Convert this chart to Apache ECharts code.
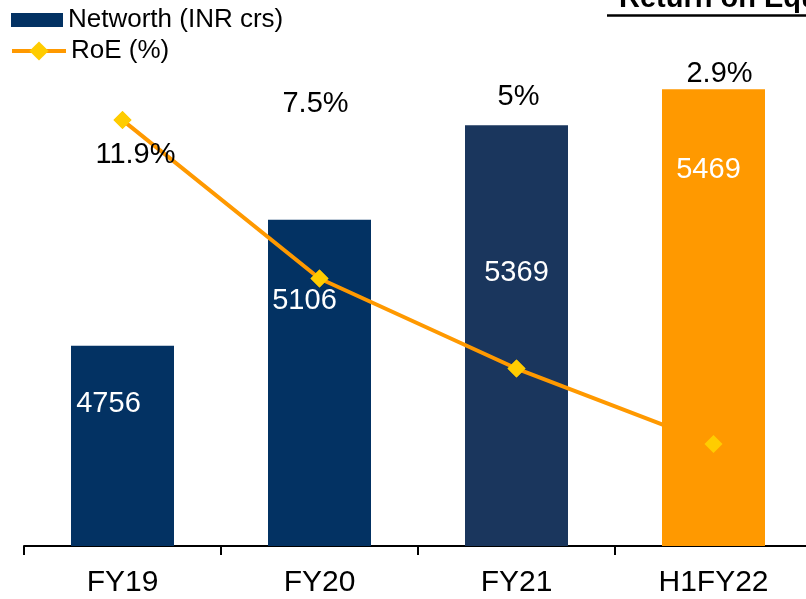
<!DOCTYPE html>
<html>
<head>
<meta charset="utf-8">
<title>Networth and RoE</title>
<script src="https://cdn.jsdelivr.net/npm/echarts@6/dist/echarts.min.js"></script>
<style>
  html, body { margin: 0; padding: 0; background: #fff; }
  #chart { width: 806px; height: 599px; }
</style>
</head>
<body>
<div id="chart"></div>
<script>
// data
const categories = ['FY19', 'FY20', 'FY21', 'H1FY22']
const networth = [4756, 5106, 5369, 5469]
const roe = [11.9, 7.5, 5, 2.9]
const roeLabels = ['11.9%', '7.5%', '5%', '2.9%']

// styling only
const barColors = ['#033263', '#033263', '#1a365d', '#ff9900']
const barLabelOffsets = [[-14, 39], [-15, 62], [0, 128], [-5, 61]]
const roeLabelOffsets = [[13, 35], [-4, -175], [2, -272], [6, -370]]

const FONT = '"Liberation Sans", Arial, sans-serif'
const highlightIndex = 3

const chart = echarts.init(document.getElementById('chart'))

const navyData = networth.map((v, i) => i === highlightIndex ? '-' : {
  value: v,
  itemStyle: {color: barColors[i]},
  label: {offset: barLabelOffsets[i]}
})
const orangeData = networth.map((v, i) => i !== highlightIndex ? '-' : {
  value: v,
  itemStyle: {color: barColors[i]},
  label: {offset: barLabelOffsets[i]}
})
const markerData = roe.map((v, i) => ({
  value: v,
  label: {formatter: roeLabels[i], offset: roeLabelOffsets[i]}
}))

const barLabel = {
  show: true,
  position: 'insideTop',
  color: '#fff',
  textBorderWidth: 0,
  fontSize: 29,
  fontFamily: FONT
}
const legendText = {fontSize: 26, color: '#000', fontFamily: FONT}

const option = {
  animation: false,
  textStyle: {fontFamily: FONT},
  grid: {left: 24, width: 788, top: 42, bottom: 53, containLabel: false, outerBoundsMode: 'none'},
  legend: [
    {
      data: [{name: 'Networth (INR crs)', icon: 'rect'}],
      left: 11,
      top: 7,
      padding: 0,
      itemWidth: 52,
      itemHeight: 14,
      textStyle: legendText
    },
    {
      data: ['RoE (%)'],
      left: 10,
      top: 38,
      padding: 0,
      itemWidth: 54,
      itemHeight: 24,
      itemGap: 0,
      lineStyle: {width: 4},
      textStyle: legendText
    }
  ],
  xAxis: {
    type: 'category',
    data: categories,
    axisLine: {lineStyle: {color: '#000', width: 2}},
    axisTick: {show: true, length: 9, lineStyle: {color: '#000', width: 2}},
    axisLabel: {fontSize: 30, color: '#000', margin: 22, fontFamily: FONT}
  },
  yAxis: [
    {type: 'value', min: 4200, max: 5600, show: false, splitLine: {show: false}},
    {type: 'value', min: 0.07, max: 14.07, show: false, splitLine: {show: false}}
  ],
  series: [
    {
      name: 'Networth (INR crs)',
      type: 'bar',
      z: 2,
      barWidth: 103,
      barGap: '-100%',
      itemStyle: {color: '#033263'},
      label: barLabel,
      data: navyData
    },
    {
      name: 'RoE (%)',
      type: 'line',
      yAxisIndex: 1,
      z: 3,
      symbol: 'diamond',
      symbolSize: 18,
      lineStyle: {color: '#ff9900', width: 4},
      itemStyle: {color: '#ffcc00'},
      data: roe
    },
    {
      name: 'Networth H1',
      type: 'bar',
      z: 4,
      barWidth: 103,
      barGap: '-100%',
      label: barLabel,
      data: orangeData
    },
    {
      name: 'RoE markers',
      type: 'scatter',
      yAxisIndex: 1,
      z: 5,
      symbol: 'diamond',
      symbolSize: 18,
      itemStyle: {color: '#ffcc00', opacity: 1},
      label: {
        show: true,
        position: 'inside',
        color: '#000',
        textBorderWidth: 0,
        fontSize: 29,
        fontFamily: FONT
      },
      data: markerData
    }
  ],
  graphic: [
    {
      type: 'text',
      left: 619,
      top: -16,
      style: {
        text: 'Return on Equity',
        font: 'bold 29px ' + FONT,
        fill: '#000'
      }
    },
    {
      type: 'line',
      shape: {x1: 607, y1: 15.5, x2: 806, y2: 15.5},
      style: {stroke: '#000', lineWidth: 2.5}
    }
  ]
}

chart.setOption(option)
window.onresize = function () {
  chart.resize()
}
</script>
</body>
</html>
